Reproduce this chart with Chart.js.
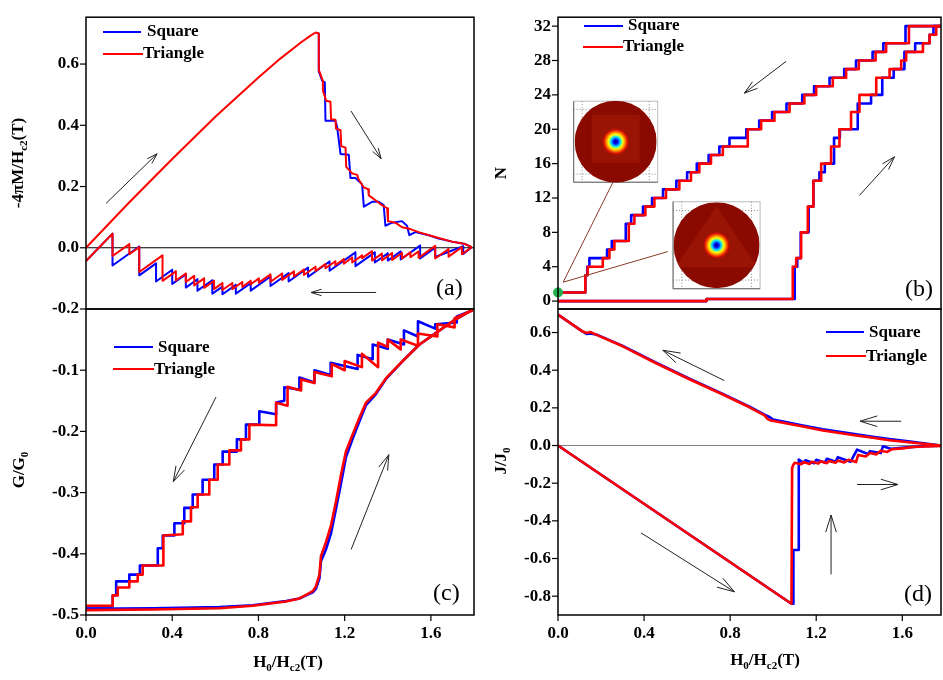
<!DOCTYPE html>
<html>
<head>
<meta charset="utf-8">
<title>Vortex hysteresis: square vs triangle</title>
<script src="https://cdn.jsdelivr.net/npm/chart.js@4.4.1/dist/chart.umd.min.js"></script>
<style>
  html, body { margin: 0; padding: 0; background: #fff; }
  #fig { position: relative; width: 943px; height: 680px; overflow: hidden;
         font-family: "Liberation Serif", "Times New Roman", serif; color: #000; }
  #fig canvas { position: absolute; left: 0; top: 0; }
  .t { position: absolute; white-space: nowrap; font-weight: bold; font-size: 17px; line-height: 20px; }
  .t sub { font-size: 11px; vertical-align: -4px; line-height: 0; }
  .rot { transform: translate(-50%, -50%) rotate(-90deg); }
  .xt { transform: translateX(-50%); }
  .sw { position: absolute; height: 2px; }
  .tag { position: absolute; font-size: 24px; line-height: 28px; white-space: nowrap; }
</style>
</head>
<body>
<div id="fig">
  <canvas id="pa" width="943" height="680"></canvas>
  <canvas id="pb" width="943" height="680"></canvas>
  <canvas id="pc" width="943" height="680"></canvas>
  <canvas id="pd" width="943" height="680"></canvas>

  <div class="t rot" style="left:18px;top:163px">-4πM/H<sub>c2</sub>(T)</div>
  <div class="t rot" style="left:501px;top:173px">N</div>
  <div class="t rot" style="left:19px;top:470px">G/G<sub>0</sub></div>
  <div class="t rot" style="left:501px;top:461px">J/J<sub>0</sub></div>
  <div class="t xt" style="left:288px;top:652px">H<sub>0</sub>/H<sub>c2</sub>(T)</div>
  <div class="t xt" style="left:765px;top:650px">H<sub>0</sub>/H<sub>c2</sub>(T)</div>

  <div class="sw" style="left:103px;top:31px;width:38px;background:#0000ff"></div>
  <div class="t" style="left:147px;top:21px">Square</div>
  <div class="sw" style="left:103px;top:53px;width:40px;background:#ff0000"></div>
  <div class="t" style="left:143px;top:43px">Triangle</div>

  <div class="sw" style="left:584px;top:25px;width:39px;background:#0000ff"></div>
  <div class="t" style="left:628px;top:15px">Square</div>
  <div class="sw" style="left:583px;top:46px;width:40px;background:#ff0000"></div>
  <div class="t" style="left:623px;top:36px">Triangle</div>

  <div class="sw" style="left:114px;top:346px;width:39px;background:#0000ff"></div>
  <div class="t" style="left:158px;top:337px">Square</div>
  <div class="sw" style="left:113px;top:368px;width:41px;background:#ff0000"></div>
  <div class="t" style="left:154px;top:359px">Triangle</div>

  <div class="sw" style="left:826px;top:331px;width:38px;background:#0000ff"></div>
  <div class="t" style="left:869px;top:322px">Square</div>
  <div class="sw" style="left:826px;top:355px;width:40px;background:#ff0000"></div>
  <div class="t" style="left:866px;top:346px">Triangle</div>

  <div class="tag" style="left:436px;top:273px">(a)</div>
  <div class="tag" style="left:905px;top:274px">(b)</div>
  <div class="tag" style="left:433px;top:578px">(c)</div>
  <div class="tag" style="left:904px;top:579px">(d)</div>
</div>

<script>
'use strict';

const blue = '#0000ff';
const red = '#ff0000';

// (a) magnetization -4piM/Hc2 against H0/Hc2
const aRiseH = [0, 0.2, 0.4, 0.6, 0.8, 0.9, 1.0, 1.04, 1.065, 1.08];
const aRiseM = [0, 0.148, 0.29, 0.428, 0.556, 0.617, 0.672, 0.692, 0.703, 0.700];

const aSqFallH = [1.08, 1.080, 1.096, 1.108, 1.111, 1.157, 1.165, 1.181, 1.219, 1.227, 1.250, 1.281, 1.289, 1.327, 1.358, 1.381, 1.389, 1.420, 1.466, 1.489, 1.500, 1.528, 1.590, 1.636, 1.698, 1.759, 1.790];
const aSqFallM = [0.700, 0.576, 0.545, 0.540, 0.415, 0.415, 0.394, 0.306, 0.304, 0.228, 0.228, 0.207, 0.134, 0.150, 0.150, 0.139, 0.072, 0.082, 0.087, 0.072, 0.041, 0.051, 0.041, 0.030, 0.020, 0.012, 0.002];
const aTrFallH = [1.08, 1.080, 1.099, 1.099, 1.114, 1.134, 1.137, 1.157, 1.160, 1.181, 1.184, 1.204, 1.207, 1.235, 1.258, 1.265, 1.289, 1.309, 1.312, 1.343, 1.373, 1.397, 1.401, 1.435, 1.466, 1.505, 1.543, 1.620, 1.698, 1.759, 1.790];
const aTrFallM = [0.700, 0.581, 0.545, 0.514, 0.480, 0.477, 0.420, 0.418, 0.389, 0.384, 0.332, 0.327, 0.264, 0.243, 0.238, 0.223, 0.197, 0.191, 0.171, 0.155, 0.139, 0.129, 0.087, 0.082, 0.067, 0.061, 0.051, 0.035, 0.020, 0.012, 0.002];

const aSqBackH = [0, 0.123, 0.123, 0.247, 0.247, 0.325, 0.325, 0.400, 0.400, 0.463, 0.463, 0.517, 0.517, 0.586, 0.586, 0.633, 0.633, 0.695, 0.695, 0.764, 0.764, 0.856, 0.856, 0.940, 0.940, 1.030, 1.030, 1.130, 1.130, 1.250, 1.250, 1.340, 1.340, 1.400, 1.400, 1.460, 1.460, 1.550, 1.550, 1.620, 1.620, 1.750, 1.750, 1.790];
const aSqBackM = [-0.043, 0.046, -0.058, 0.004, -0.090, -0.051, -0.110, -0.072, -0.118, -0.087, -0.130, -0.103, -0.140, -0.106, -0.150, -0.127, -0.152, -0.121, -0.150, -0.116, -0.140, -0.094, -0.125, -0.083, -0.110, -0.065, -0.095, -0.045, -0.075, -0.015, -0.060, -0.015, -0.048, -0.018, -0.042, -0.012, -0.038, 0.007, -0.035, 0.000, -0.030, 0.005, -0.020, 0.002];
const aTrBackH = [0, 0.123, 0.123, 0.201, 0.201, 0.247, 0.247, 0.355, 0.355, 0.417, 0.417, 0.463, 0.463, 0.502, 0.502, 0.548, 0.548, 0.594, 0.594, 0.633, 0.633, 0.679, 0.679, 0.725, 0.725, 0.764, 0.764, 0.802, 0.802, 0.856, 0.856, 0.910, 0.910, 0.965, 0.965, 1.011, 1.011, 1.065, 1.065, 1.111, 1.111, 1.157, 1.157, 1.196, 1.196, 1.235, 1.235, 1.281, 1.281, 1.327, 1.327, 1.373, 1.373, 1.420, 1.420, 1.466, 1.466, 1.505, 1.505, 1.543, 1.543, 1.620, 1.620, 1.682, 1.682, 1.744, 1.744, 1.790];
const aTrBackM = [-0.043, 0.046, -0.027, 0.012, -0.021, 0.002, -0.079, -0.025, -0.108, -0.077, -0.107, -0.084, -0.112, -0.092, -0.123, -0.100, -0.131, -0.108, -0.135, -0.115, -0.138, -0.115, -0.135, -0.112, -0.128, -0.108, -0.119, -0.100, -0.114, -0.087, -0.111, -0.084, -0.105, -0.077, -0.094, -0.071, -0.089, -0.062, -0.076, -0.053, -0.067, -0.044, -0.057, -0.037, -0.052, -0.032, -0.048, -0.025, -0.034, -0.011, -0.042, -0.019, -0.041, -0.017, -0.040, -0.017, -0.035, -0.015, -0.031, -0.012, -0.033, 0.006, -0.035, -0.004, -0.029, 0.002, -0.021, 0.002];

// (b) vortex number N, stepped: each level holds from its H until the next
const bSqDescH = [0, 0.127, 0.136, 0.146, 0.228, 0.250, 0.315, 0.340, 0.395, 0.437, 0.488, 0.550, 0.600, 0.645, 0.700, 0.750, 0.797, 0.875, 0.935, 0.995, 1.062, 1.135, 1.190, 1.262, 1.330, 1.385, 1.462, 1.512, 1.615, 1.78];
const bSqDescN = [1, 3, 4, 5, 6, 7, 9, 10, 11, 12, 13, 14, 15, 16, 17, 18, 19, 20, 21, 22, 23, 24, 25, 26, 27, 28, 29, 30, 32, 32];
const bTrDescH = [0, 0.127, 0.138, 0.208, 0.239, 0.262, 0.329, 0.355, 0.406, 0.448, 0.502, 0.564, 0.618, 0.657, 0.711, 0.766, 0.882, 0.944, 1.006, 1.076, 1.145, 1.200, 1.277, 1.339, 1.398, 1.476, 1.525, 1.631, 1.78];
const bTrDescN = [1, 3, 4, 5, 6, 7, 9, 10, 11, 12, 13, 14, 15, 16, 17, 18, 20, 21, 22, 23, 24, 25, 26, 27, 28, 29, 30, 32, 32];
const bSqRiseH = [0, 0.69, 1.100, 1.112, 1.128, 1.165, 1.187, 1.215, 1.240, 1.283, 1.310, 1.393, 1.455, 1.507, 1.560, 1.610, 1.660, 1.727, 1.745, 1.78];
const bSqRiseN = [0, 0.25, 4, 5, 8, 11, 14, 15, 16, 19, 20, 23, 24, 26, 27, 29, 30, 31, 32, 32];
const bTrRiseH = [0, 0.69, 1.091, 1.107, 1.130, 1.161, 1.187, 1.223, 1.269, 1.308, 1.362, 1.401, 1.479, 1.541, 1.595, 1.618, 1.696, 1.727, 1.758, 1.78];
const bTrRiseN = [0, 0.25, 4, 5, 8, 11, 14, 16, 18, 20, 22, 24, 26, 27, 28, 29, 30, 31, 32, 32];

// (c) Gibbs energy G/G0
const cRiseH = [0, 0.309, 0.619, 0.773, 0.928, 0.990, 1.021, 1.052, 1.067, 1.083, 1.090, 1.114, 1.137, 1.160, 1.183, 1.206, 1.237, 1.268, 1.299, 1.345, 1.392, 1.469, 1.547, 1.624, 1.701, 1.794];
const cSqRiseG = [-0.490, -0.489, -0.487, -0.484, -0.477, -0.473, -0.468, -0.463, -0.457, -0.440, -0.412, -0.392, -0.366, -0.326, -0.285, -0.242, -0.212, -0.184, -0.157, -0.139, -0.114, -0.085, -0.058, -0.039, -0.020, -0.001];
const cTrRiseG = [-0.492, -0.491, -0.489, -0.485, -0.478, -0.473, -0.467, -0.461, -0.453, -0.434, -0.404, -0.380, -0.353, -0.314, -0.271, -0.233, -0.205, -0.178, -0.153, -0.137, -0.113, -0.085, -0.058, -0.039, -0.020, -0.001];
const cSqFallH = [0, 0.124, 0.124, 0.140, 0.140, 0.201, 0.201, 0.250, 0.250, 0.333, 0.333, 0.356, 0.356, 0.410, 0.410, 0.456, 0.456, 0.495, 0.495, 0.541, 0.541, 0.595, 0.595, 0.634, 0.634, 0.700, 0.700, 0.742, 0.742, 0.804, 0.804, 0.882, 0.882, 0.920, 0.920, 0.990, 0.990, 1.060, 1.060, 1.135, 1.135, 1.260, 1.260, 1.330, 1.330, 1.400, 1.400, 1.475, 1.475, 1.540, 1.540, 1.620, 1.620, 1.720, 1.720, 1.794];
const cSqFallG = [-0.486, -0.486, -0.468, -0.468, -0.445, -0.445, -0.434, -0.434, -0.419, -0.419, -0.391, -0.391, -0.370, -0.370, -0.350, -0.350, -0.325, -0.325, -0.303, -0.303, -0.279, -0.279, -0.254, -0.254, -0.233, -0.233, -0.213, -0.213, -0.189, -0.189, -0.167, -0.172, -0.153, -0.150, -0.128, -0.132, -0.112, -0.120, -0.100, -0.108, -0.088, -0.098, -0.075, -0.082, -0.058, -0.065, -0.050, -0.058, -0.035, -0.045, -0.020, -0.032, -0.025, -0.022, -0.012, -0.002];
const cTrFallH = [0, 0.124, 0.124, 0.147, 0.147, 0.201, 0.201, 0.240, 0.240, 0.263, 0.263, 0.359, 0.359, 0.449, 0.449, 0.487, 0.487, 0.518, 0.518, 0.572, 0.572, 0.611, 0.611, 0.665, 0.665, 0.719, 0.719, 0.758, 0.758, 0.882, 0.882, 0.935, 0.935, 0.998, 0.998, 1.060, 1.060, 1.140, 1.140, 1.200, 1.200, 1.280, 1.280, 1.355, 1.355, 1.400, 1.400, 1.460, 1.460, 1.540, 1.540, 1.630, 1.630, 1.710, 1.710, 1.794];
const cTrFallG = [-0.485, -0.485, -0.468, -0.468, -0.455, -0.455, -0.445, -0.445, -0.434, -0.434, -0.419, -0.419, -0.370, -0.368, -0.347, -0.347, -0.324, -0.324, -0.303, -0.303, -0.279, -0.279, -0.254, -0.254, -0.231, -0.231, -0.213, -0.213, -0.189, -0.190, -0.153, -0.158, -0.127, -0.133, -0.115, -0.121, -0.103, -0.110, -0.090, -0.100, -0.085, -0.095, -0.073, -0.095, -0.055, -0.062, -0.050, -0.066, -0.050, -0.060, -0.040, -0.045, -0.025, -0.030, -0.015, -0.002];

// (d) current J/J0
const dSqRiseH = [0, 1.085, 1.094, 1.094, 1.119, 1.119, 1.14, 1.15, 1.19, 1.20, 1.24, 1.25, 1.29, 1.30, 1.36, 1.39, 1.44, 1.45, 1.50, 1.51, 1.55, 1.62, 1.70, 1.78];
const dSqRiseJ = [0, -0.84, -0.84, -0.555, -0.555, -0.075, -0.092, -0.078, -0.094, -0.076, -0.090, -0.070, -0.086, -0.062, -0.086, -0.022, -0.045, -0.030, -0.040, -0.004, -0.018, -0.010, -0.004, -0.001];
const dTrRiseH = [0, 1.085, 1.088, 1.095, 1.10, 1.13, 1.14, 1.17, 1.18, 1.21, 1.22, 1.25, 1.26, 1.29, 1.30, 1.33, 1.35, 1.385, 1.395, 1.43, 1.45, 1.48, 1.50, 1.53, 1.55, 1.60, 1.65, 1.70, 1.78];
const dTrRiseJ = [0, -0.84, -0.118, -0.100, -0.092, -0.100, -0.088, -0.098, -0.086, -0.096, -0.084, -0.094, -0.082, -0.092, -0.080, -0.090, -0.076, -0.088, -0.050, -0.058, -0.040, -0.047, -0.028, -0.034, -0.020, -0.015, -0.008, -0.005, -0.002];
const dSqFallH = [0, 0.115, 0.135, 0.150, 0.177, 0.301, 0.456, 0.611, 0.766, 0.890, 0.960, 0.985, 1.000, 1.138, 1.231, 1.386, 1.463, 1.541, 1.618, 1.78];
const dSqFallJ = [0.695, 0.605, 0.592, 0.595, 0.590, 0.529, 0.440, 0.355, 0.274, 0.206, 0.164, 0.150, 0.138, 0.106, 0.086, 0.060, 0.047, 0.034, 0.024, 0];
const dTrFallH = [0, 0.115, 0.135, 0.150, 0.177, 0.301, 0.456, 0.611, 0.766, 0.890, 0.960, 0.975, 0.990, 1.138, 1.231, 1.386, 1.463, 1.541, 1.618, 1.78];
const dTrFallJ = [0.695, 0.605, 0.598, 0.603, 0.589, 0.527, 0.437, 0.352, 0.271, 0.203, 0.160, 0.140, 0.133, 0.101, 0.080, 0.053, 0.041, 0.028, 0.019, 0];

// direction arrows, [fromH, fromY, toH, toY] in data units
const arrowsA = [[0.093, 0.145, 0.33, 0.307], [1.229, 0.447, 1.369, 0.291], [1.346, -0.146, 1.044, -0.146]];
const arrowsB = [[1.060, 27.9, 0.866, 24.2], [1.401, 12.3, 1.564, 16.8]];
const arrowsC = [[0.603, -0.144, 0.405, -0.282], [1.230, -0.393, 1.405, -0.238]];
const arrowsD = [[0.773, 0.345, 0.487, 0.506], [1.595, 0.129, 1.404, 0.129], [1.390, -0.207, 1.580, -0.207],
                 [1.269, -0.684, 1.269, -0.369], [0.386, -0.464, 0.820, -0.777]];

Chart.defaults.font.family = '"Liberation Serif", "Times New Roman", serif';
Chart.defaults.color = '#000';

function onStep(v, s) {
  return Math.abs(v / s - Math.round(v / s)) < 1e-6;
}

function fmt(v) {
  return (Math.abs(v) < 1e-9 ? 0 : v).toFixed(1);
}

function series(xs, ys, color, width, stepped) {
  return {
    data: xs.map(function(x, i) { return {x: x, y: ys[i]}; }),
    borderColor: color,
    borderWidth: width,
    borderJoinStyle: 'round',
    showLine: true,
    pointRadius: 0,
    pointHoverRadius: 0,
    tension: 0,
    stepped: stepped || false
  };
}

function drawArrow(ctx, x1, y1, x2, y2, head) {
  const ang = Math.atan2(y2 - y1, x2 - x1);
  const s = 0.3;
  ctx.beginPath();
  ctx.moveTo(x1, y1);
  ctx.lineTo(x2, y2);
  ctx.moveTo(x2 - head * Math.cos(ang - s), y2 - head * Math.sin(ang - s));
  ctx.lineTo(x2, y2);
  ctx.lineTo(x2 - head * Math.cos(ang + s), y2 - head * Math.sin(ang + s));
  ctx.stroke();
}

function drawTicks(ctx, scale, a, step, major, horiz) {
  ctx.strokeStyle = '#000';
  ctx.lineWidth = 1.2;
  scale.ticks.forEach(function(t) {
    const v = t.value;
    if (!onStep(v, step)) return;
    const len = onStep(v, major) ? 6 : 3.5;
    const p = scale.getPixelForValue(v);
    ctx.beginPath();
    if (horiz) {
      ctx.moveTo(p, a.bottom);
      ctx.lineTo(p, a.bottom + len);
    } else {
      ctx.moveTo(a.left - len, p);
      ctx.lineTo(a.left, p);
    }
    ctx.stroke();
  });
}

// small contour-plot insets of panel (b)
function drawInset(ctx, cx, cy, w, h, r, shape) {
  const x0 = cx - w / 2, y0 = cy - h / 2;
  ctx.fillStyle = '#fff';
  ctx.fillRect(x0, y0, w, h);
  ctx.strokeStyle = '#bbb';
  ctx.lineWidth = 1;
  ctx.strokeRect(x0, y0, w, h);
  ctx.setLineDash([1, 2]);
  ctx.strokeStyle = '#888';
  [-0.4, 0.4].forEach(function(f) {
    ctx.beginPath();
    ctx.moveTo(cx + f * w, y0); ctx.lineTo(cx + f * w, y0 + h);
    ctx.moveTo(x0, cy + f * h); ctx.lineTo(x0 + w, cy + f * h);
    ctx.stroke();
  });
  ctx.setLineDash([]);
  ctx.strokeStyle = '#666';
  ctx.beginPath();
  ctx.moveTo(x0, y0); ctx.lineTo(x0, y0 + h); ctx.lineTo(x0 + w, y0 + h);
  ctx.stroke();

  ctx.save();
  ctx.beginPath();
  ctx.arc(cx, cy, r, 0, Math.PI * 2);
  ctx.clip();
  ctx.fillStyle = '#8a0a00';
  ctx.fillRect(cx - r, cy - r, 2 * r, 2 * r);
  ctx.fillStyle = '#9a1406';
  ctx.beginPath();
  if (shape === 'square') {
    ctx.rect(cx - 24, cy - 27, 48, 48);
  } else {
    ctx.moveTo(cx, cy - 39);
    ctx.lineTo(cx + 41, cy + 22);
    ctx.lineTo(cx - 41, cy + 22);
    ctx.closePath();
  }
  ctx.fill();
  const g = ctx.createRadialGradient(cx, cy, 0, cx, cy, 14);
  g.addColorStop(0, '#00007a');
  g.addColorStop(0.16, '#0010ff');
  g.addColorStop(0.34, '#00e0ff');
  g.addColorStop(0.52, '#ffff00');
  g.addColorStop(0.68, '#ff8000');
  g.addColorStop(0.84, '#e01000');
  g.addColorStop(1, 'rgba(154,20,6,0)');
  ctx.fillStyle = g;
  ctx.beginPath();
  ctx.arc(cx, cy, 14, 0, Math.PI * 2);
  ctx.fill();
  ctx.restore();
}

const decoPlugin = {
  id: 'deco',
  beforeDatasetsDraw(chart, args, opts) {
    if (!opts.zero) return;
    const ctx = chart.ctx, a = chart.chartArea;
    const y0 = chart.scales.y.getPixelForValue(0);
    ctx.save();
    ctx.strokeStyle = opts.zero;
    ctx.lineWidth = 1;
    ctx.beginPath();
    ctx.moveTo(a.left, y0);
    ctx.lineTo(a.right, y0);
    ctx.stroke();
    ctx.restore();
  },
  afterDatasetsDraw(chart, args, opts) {
    const ctx = chart.ctx, a = chart.chartArea;
    const sx = chart.scales.x, sy = chart.scales.y;
    const px = function(v) { return sx.getPixelForValue(v); };
    const py = function(v) { return sy.getPixelForValue(v); };
    ctx.save();
    ctx.strokeStyle = '#222';
    ctx.lineWidth = 1;
    (opts.arrows || []).forEach(function(r) {
      drawArrow(ctx, px(r[0]), py(r[1]), px(r[2]), py(r[3]), opts.head);
    });
    if (opts.insets) {
      const p0 = [0.024, 2.2];
      ctx.strokeStyle = '#8b3a2a';
      ctx.lineWidth = 1;
      ctx.beginPath();
      ctx.moveTo(px(p0[0]), py(p0[1])); ctx.lineTo(px(0.254), py(13.76));
      ctx.moveTo(px(p0[0]), py(p0[1])); ctx.lineTo(px(0.510), py(5.76));
      ctx.stroke();
      drawInset(ctx, px(0.268), py(18.55), 84, 81, 41, 'square');
      drawInset(ctx, px(0.737), py(6.5), 87, 87, 43, 'triangle');
      ctx.fillStyle = '#22b14c';
      ctx.beginPath();
      ctx.arc(px(0), py(1), 5, 0, Math.PI * 2);
      ctx.fill();
    }
    ctx.strokeStyle = '#000';
    ctx.lineWidth = 1.5;
    ctx.strokeRect(a.left, a.top, a.right - a.left, a.bottom - a.top);
    drawTicks(ctx, sy, a, opts.yStep, opts.yMajor, false);
    if (opts.xTicks) drawTicks(ctx, sx, a, 0.2, 0.4, true);
    ctx.restore();
  }
};

function makePanel(id, box, xMax, yr, datasets, deco, showX) {
  return new Chart(document.getElementById(id), {
    type: 'scatter',
    data: { datasets: datasets },
    plugins: [decoPlugin],
    options: {
      responsive: false,
      animation: false,
      events: [],
      layout: { padding: { left: 0, top: box.top, right: 943 - box.right, bottom: 0 } },
      plugins: { legend: { display: false }, tooltip: { enabled: false }, deco: deco },
      scales: {
        x: {
          type: 'linear', min: 0, max: xMax,
          grid: { display: false, drawTicks: false },
          border: { display: false },
          ticks: {
            display: showX, stepSize: 0.2, autoSkip: false, includeBounds: false, maxRotation: 0,
            padding: 8, font: { size: 17, weight: 'bold' },
            callback: function(v) { return onStep(v, 0.4) ? fmt(v) : null; }
          },
          afterFit: function(s) { s.height = 680 - box.bottom; }
        },
        y: {
          type: 'linear', min: yr.min, max: yr.max,
          grid: { display: false, drawTicks: false },
          border: { display: false },
          ticks: {
            stepSize: yr.step, autoSkip: false, includeBounds: false,
            padding: 7, font: { size: 17, weight: 'bold' },
            callback: yr.label
          },
          afterFit: function(s) { s.width = box.left; }
        }
      }
    }
  });
}

makePanel('pa', {left: 86, top: 4, right: 474, bottom: 309}, 1.8,
  {min: -0.2, max: 0.753, step: 0.1, label: function(v) { return onStep(v, 0.2) ? fmt(v) : null; }},
  [
    series(aRiseH, aRiseM, red, 2),
    series(aTrFallH, aTrFallM, red, 2),
    series(aTrBackH, aTrBackM, red, 2),
    series(aSqFallH, aSqFallM, blue, 2),
    series(aSqBackH, aSqBackM, blue, 2)
  ],
  {zero: '#000', arrows: arrowsA, head: 11, yStep: 0.1, yMajor: 0.2, xTicks: false}, false);

makePanel('pb', {left: 558, top: 4, right: 941, bottom: 309}, 1.78,
  {min: -0.92, max: 33.04, step: 2, label: function(v) { return onStep(v, 4) ? String(Math.round(v)) : null; }},
  [
    series(bTrDescH, bTrDescN, red, 2.6, 'before'),
    series(bTrRiseH, bTrRiseN, red, 2.6, 'before'),
    series(bSqDescH, bSqDescN, blue, 2.6, 'before'),
    series(bSqRiseH, bSqRiseN, blue, 2.6, 'before')
  ],
  {arrows: arrowsB, head: 14, insets: true, yStep: 2, yMajor: 4, xTicks: false}, false);

makePanel('pc', {left: 86, top: 309, right: 474, bottom: 615}, 1.8,
  {min: -0.5, max: 0, step: 0.05, label: function(v) { return onStep(v, 0.1) && v < -1e-9 ? fmt(v) : null; }},
  [
    series(cRiseH, cTrRiseG, red, 2.6),
    series(cTrFallH, cTrFallG, red, 2.6),
    series(cRiseH, cSqRiseG, blue, 2.6),
    series(cSqFallH, cSqFallG, blue, 2.6)
  ],
  {arrows: arrowsC, head: 16, yStep: 0.05, yMajor: 0.1, xTicks: true}, true);

makePanel('pd', {left: 558, top: 309, right: 941, bottom: 615}, 1.78,
  {min: -0.9, max: 0.725, step: 0.1, label: function(v) { return onStep(v, 0.2) ? fmt(v) : null; }},
  [
    series(dTrRiseH, dTrRiseJ, red, 2.6),
    series(dTrFallH, dTrFallJ, red, 2.6),
    series(dSqRiseH, dSqRiseJ, blue, 2.6),
    series(dSqFallH, dSqFallJ, blue, 2.6)
  ],
  {zero: '#808080', arrows: arrowsD, head: 18, yStep: 0.1, yMajor: 0.2, xTicks: true}, true);
</script>
</body>
</html>
